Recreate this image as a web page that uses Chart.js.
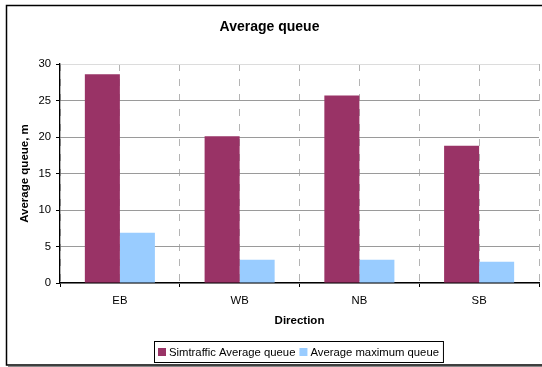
<!DOCTYPE html>
<html>
<head>
<meta charset="utf-8">
<script src="https://cdn.jsdelivr.net/npm/chart.js@4/dist/chart.umd.min.js"></script>
<style>
  html, body { margin: 0; padding: 0; background: #fff; }
  #wrap { width: 542px; height: 367px; }
</style>
</head>
<body>
<div id="wrap"><canvas id="c" width="542" height="367"></canvas></div>
<script>
// Queue lengths per approach direction (m)
const categories = ['EB', 'WB', 'NB', 'SB'];
const simtrafficAverage = [28.6, 20.1, 25.7, 18.8];
const averageMaximum = [6.9, 3.2, 3.2, 2.9];
const seriesNames = ['Simtraffic Average queue', 'Average maximum queue'];
const yMin = 0, yMax = 30, yStep = 5;

const FONT = "'Liberation Sans', Arial, sans-serif";
const DASH = [7, 8];

// Outer frame around the whole chart
const framePlugin = {
  id: 'frame',
  beforeDraw(chart) {
    const ctx = chart.ctx;
    ctx.save();
    ctx.fillStyle = '#fff';
    ctx.fillRect(0, 0, chart.width, chart.height);
    ctx.restore();
  },
  afterDraw(chart) {
    const ctx = chart.ctx;
    ctx.save();
    ctx.strokeStyle = '#000';
    ctx.lineWidth = 1.5;
    ctx.strokeRect(6.5, 5.5, chart.width + 10, 359.5);
    ctx.lineWidth = 1;
    ctx.strokeStyle = '#888';
    ctx.beginPath();
    ctx.moveTo(8, 366.5);
    ctx.lineTo(chart.width, 366.5);
    ctx.stroke();
    ctx.restore();
  }
};

// Boxed legend under the axis title, centred on the plot area
const boxedLegend = {
  id: 'boxedLegend',
  afterDraw(chart) {
    const ctx = chart.ctx;
    const area = chart.chartArea;
    ctx.save();
    ctx.font = '11.3px ' + FONT;
    const sq = 8, gapAfterSq = 3, gapAfterText = 4, padL = 4, padR = 4;
    const items = chart.data.datasets.map(ds => ({
      text: ds.label, color: ds.backgroundColor, w: ctx.measureText(ds.label).width
    }));
    let total = padL + padR;
    items.forEach((it, i) => {
      total += sq + gapAfterSq + it.w + (i < items.length - 1 ? gapAfterText : 0);
    });
    const cx = (area.left + area.right) / 2 - 1.5;
    const left = Math.round(cx - total / 2);
    const top = 341.5, h = 21;
    ctx.strokeStyle = '#000';
    ctx.lineWidth = 1;
    ctx.strokeRect(left + 0.5, top, total, h);
    let x = left + padL;
    const midY = top + h / 2;
    ctx.textBaseline = 'middle';
    ctx.fillStyle = '#000';
    items.forEach(it => {
      ctx.fillStyle = it.color;
      ctx.fillRect(x, midY - 4, sq, sq);
      x += sq + gapAfterSq;
      ctx.fillStyle = '#000';
      ctx.fillText(it.text, x, midY + 0.5);
      x += it.w + gapAfterText;
    });
    ctx.restore();
  }
};

new Chart(document.getElementById('c'), {
  type: 'bar',
  data: {
    labels: categories,
    datasets: [
      {
        label: seriesNames[0],
        data: simtrafficAverage,
        backgroundColor: '#993366',
        categoryPercentage: 0.585,
        barPercentage: 1.0
      },
      {
        label: seriesNames[1],
        data: averageMaximum,
        backgroundColor: '#99CCFF',
        categoryPercentage: 0.585,
        barPercentage: 1.0
      }
    ]
  },
  options: {
    responsive: false,
    animation: false,
    devicePixelRatio: 1,
    layout: { padding: { left: 0, right: 3, top: 0, bottom: 31 } },
    plugins: {
      legend: { display: false },
      tooltip: { enabled: false },
      title: {
        display: true,
        text: 'Average queue',
        color: '#000',
        font: { family: FONT, size: 14, weight: 'bold' },
        padding: { top: 18.4, bottom: 28.8 }
      }
    },
    scales: {
      x: {
        type: 'category',
        position: 'bottom',
        offset: true,
        grid: {
          offset: true,
          display: true,
          drawOnChartArea: true,
          color: '#b4b4b4',
          lineWidth: 1,
          drawTicks: true,
          tickLength: 4,
          tickColor: '#000',
          tickBorderDash: [],
          tickWidth: 1
        },
        border: { display: true, color: '#000', width: 1.3, dash: DASH },
        ticks: {
          color: '#000',
          padding: 7,
          maxRotation: 0,
          font: { family: FONT, size: 11.3 }
        },
        title: {
          display: true,
          text: 'Direction',
          color: '#000',
          font: { family: FONT, size: 11.5, weight: 'bold' },
          padding: { top: 4, bottom: 8.4 }
        },
        afterFit(scale) { scale.height = 53; }
      },
      xMid: {
        type: 'category',
        position: 'bottom',
        offset: true,
        grid: {
          offset: false,
          color: '#b4b4b4',
          lineWidth: 1,
          drawTicks: false
        },
        border: { display: false, dash: DASH },
        ticks: { display: false },
        afterFit(scale) { scale.height = 0; }
      },
      y: {
        min: yMin,
        max: yMax,
        ticks: {
          stepSize: yStep,
          color: '#000',
          padding: 5,
          font: { family: FONT, size: 11.3 }
        },
        grid: {
          color: ctx => (ctx.tick && ctx.tick.value === yMax ? '#dcdcdc' : '#9a9a9a'),
          lineWidth: 1,
          drawTicks: true,
          tickLength: 4,
          tickColor: '#000'
        },
        border: { display: true, color: '#000', width: 1.3 },
        title: {
          display: true,
          text: 'Average queue, m',
          color: '#000',
          font: { family: FONT, size: 11.5, weight: 'bold' },
          padding: { top: 18.1, bottom: 0 }
        },
        afterFit(scale) { scale.width = 60; }
      }
    }
  },
  plugins: [framePlugin, boxedLegend]
});
</script>
</body>
</html>
